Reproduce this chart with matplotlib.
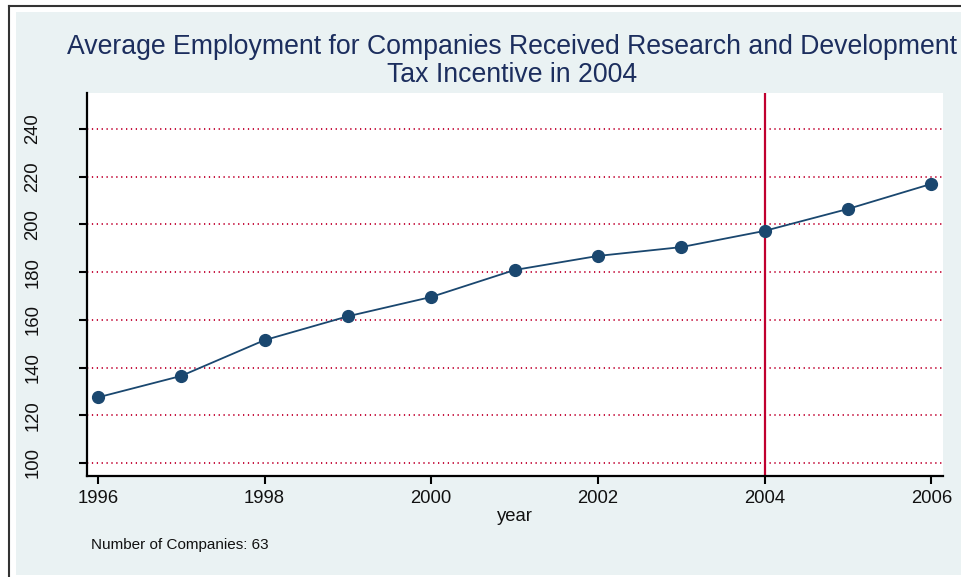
import numpy as np
import matplotlib
matplotlib.use("Agg")
import matplotlib.pyplot as plt
from matplotlib.patches import Rectangle
from matplotlib.lines import Line2D

# data
years = [1996, 1997, 1998, 1999, 2000, 2001, 2002, 2003, 2004, 2005, 2006]
employment = [127.5, 136.5, 151.5, 161.5, 169.6, 180.9, 186.8, 190.5, 197.3, 206.5, 217.0]
yticks = [100, 120, 140, 160, 180, 200, 220, 240]
xticks = [1996, 1998, 2000, 2002, 2004, 2006]
event_year = 2004

plt.rcParams["font.family"] = ["Liberation Sans", "DejaVu Sans"]

W, H = 962, 577
fig = plt.figure(figsize=(W / 100, H / 100), dpi=100)
fig.patch.set_facecolor("white")

# outer frame + Stata-like background (behind the axes)
fig.patches.append(Rectangle((16 / W, 2 / H), 1 - 16 / W, (575 - 12) / H,
                             transform=fig.transFigure, facecolor="#EAF2F3",
                             edgecolor="none", zorder=-5))
fig.lines.append(Line2D([8.5 / W, 8.5 / W], [0, 1 - 5.5 / H], transform=fig.transFigure,
                        color="#333333", lw=1.5, zorder=-5))
fig.lines.append(Line2D([8.5 / W, 1], [1 - 5.5 / H, 1 - 5.5 / H], transform=fig.transFigure,
                        color="#333333", lw=1.5, zorder=-5))

ax = fig.add_axes([87 / W, 1 - 476 / H, (943 - 87) / W, (476 - 93) / H])
ax.set_facecolor("white")

navy = "#1A476F"
red = "#C0002F"

for yv in yticks:
    ax.axhline(yv, color=red, lw=1.3, ls=(0, (0.7, 2.0)), zorder=1)
ax.axvline(event_year, color=red, lw=1.6, zorder=2)

ax.plot(years, employment, color=navy, lw=1.3, marker="o", ms=8.5,
        markerfacecolor=navy, markeredgecolor=navy, zorder=3)

ax.set_xlim(1995.87, 2006.14)
ax.set_ylim(94.55, 255.1)
ax.set_xticks(xticks)
ax.set_yticks(yticks)
ax.set_yticklabels([str(v) for v in yticks], rotation=90, va="center")
ax.tick_params(axis="both", direction="out", width=1.5, colors="black",
               labelsize=13.3, labelcolor="#111111")
ax.tick_params(axis="y", length=6, pad=27)
ax.tick_params(axis="x", length=5.5, pad=4.5)

for s in ["top", "right"]:
    ax.spines[s].set_visible(False)
for s in ["left", "bottom"]:
    ax.spines[s].set_linewidth(1.6)
    ax.spines[s].set_color("black")

ax.set_xlabel("year", fontsize=13.3, color="#111111", labelpad=1)

fig.text(512 / W, 1 - 47 / H, "Average Employment for Companies Received Research and Development",
         ha="center", va="center", fontsize=19.2, color="#1C2E5E")
fig.text(512 / W, 1 - 75 / H, "Tax Incentive in 2004",
         ha="center", va="center", fontsize=19.2, color="#1C2E5E")
fig.text(91 / W, 1 - 545 / H, "Number of Companies: 63", ha="left", va="center",
         fontsize=11, color="#111111")

fig.savefig("out.png", dpi=100)
